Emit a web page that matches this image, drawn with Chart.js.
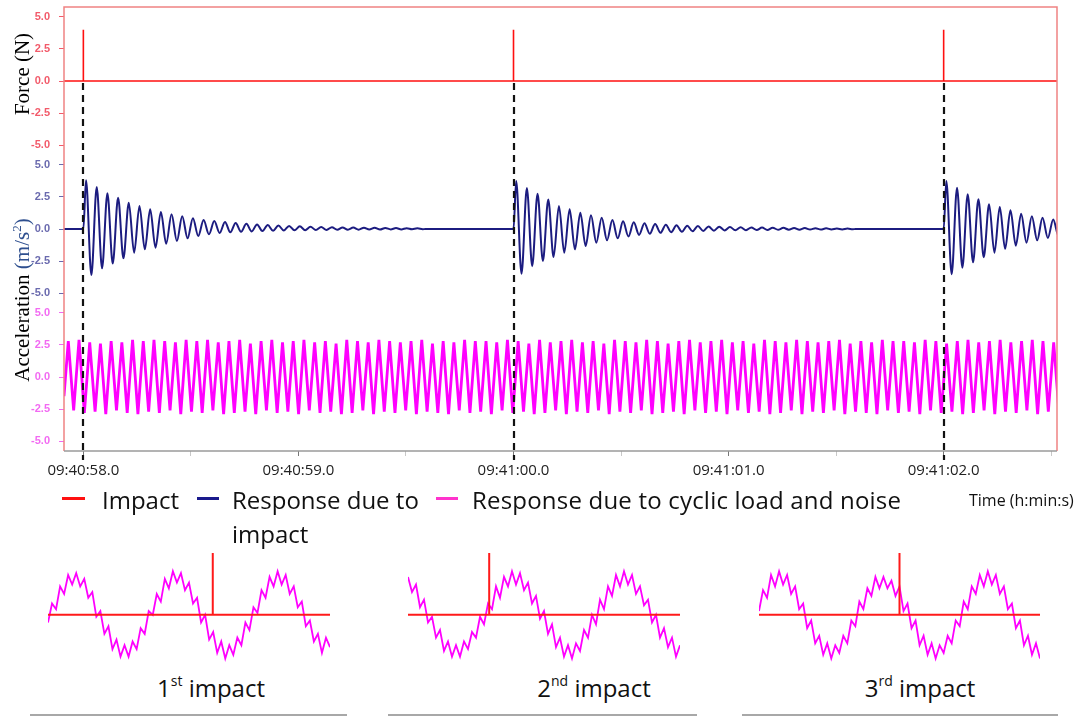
<!DOCTYPE html>
<html>
<head>
<meta charset="utf-8">
<script src="https://cdn.jsdelivr.net/npm/chart.js@4.4.0/dist/chart.umd.min.js"></script>
<style>
  html, body { margin:0; padding:0; background:#fff; }
  body { width:1082px; height:717px; overflow:hidden; position:relative; font-family:'Open Sans', sans-serif; }
  canvas { position:absolute; }
  .t { position:absolute; white-space:nowrap; color:#111; }
  .dash { position:absolute; height:3px; }
  .ul { position:absolute; height:2px; background:#a8a8a8; top:714px; }
  .ytitle { position:absolute; white-space:nowrap; font-family:'Liberation Serif', serif; font-size:21px; line-height:24px; color:#000; transform:translate(-50%,-50%) rotate(-90deg); }
  .cap { position:absolute; width:220px; text-align:center; font-size:24px; line-height:24px; color:#111; }
  .cap sup { font-size:14px; line-height:0; position:relative; top:-2px; vertical-align:super; }
</style>
</head>
<body>
<canvas id="main" width="1082" height="492" style="left:0;top:0;"></canvas>
<canvas id="in1" width="282" height="120" style="left:48px;top:545px;"></canvas>
<canvas id="in2" width="272" height="120" style="left:408px;top:545px;"></canvas>
<canvas id="in3" width="281" height="120" style="left:759px;top:545px;"></canvas>

<div class="ytitle" style="left:22px;top:74px;">Force (N)</div>
<div class="ytitle" style="left:22px;top:300px;">Acceleration <span style="color:#2e4f8f">(m/s<sup style="font-size:13px;line-height:0;">2</sup>)</span></div>

<div class="dash" style="left:62px;top:497px;width:23px;background:#ff1010;"></div>
<div class="t" style="left:102px;top:488px;font-size:24px;line-height:24px;">Impact</div>
<div class="dash" style="left:197px;top:497px;width:22px;background:#1a1a8c;"></div>
<div class="t" style="left:232px;top:488px;font-size:24px;line-height:24px;">Response due to</div>
<div class="t" style="left:232px;top:522px;font-size:24px;line-height:24px;">impact</div>
<div class="dash" style="left:436px;top:497px;width:22px;background:#ff33cc;"></div>
<div class="t" style="left:472px;top:488px;font-size:24px;line-height:24px;letter-spacing:0.2px;">Response due to cyclic load and noise</div>
<div class="t" style="left:969px;top:492px;font-size:16px;line-height:16px;">Time (h:min:s)</div>

<div class="cap" style="left:101px;top:676px;">1<sup>st</sup> impact</div>
<div class="cap" style="left:484px;top:676px;">2<sup>nd</sup> impact</div>
<div class="cap" style="left:810px;top:676px;">3<sup>rd</sup> impact</div>
<div class="ul" style="left:30px;width:317px;"></div>
<div class="ul" style="left:388px;width:309px;"></div>
<div class="ul" style="left:742px;width:316px;"></div>

<script>
// ---------- DATA (time in seconds after 09:40:00) ----------
const xTickValues = [58.0, 58.5, 59.0, 59.5, 60.0, 60.5, 61.0, 61.5, 62.0, 62.5];
const yTickValues = [-5.0, -2.5, 0.0, 2.5, 5.0];

const impactTimes = [58.0, 60.0, 62.0];
const impactForce = [4.0, 4.0, 4.0];

// successive maxima / minima of the impact response (m/s^2)
const respPeaks1   = [3.80,3.28,2.79,2.45,2.06,1.80,1.54,1.33,1.15,1.00,0.84,0.70,0.62,0.55,0.47,0.41,0.36,0.31,0.27,0.24,0.21,0.18,0.16,0.14,0.12,0.11,0.10,0.09,0.08,0.07,0.06,0.05];
const respTroughs1 = [-3.60,-3.07,-2.70,-2.29,-1.85,-1.59,-1.46,-1.15,-0.94,-0.73,-0.55,-0.41,-0.31,-0.26,-0.22,-0.19,-0.16,-0.14,-0.12,-0.10,-0.09,-0.08,-0.07,-0.06,-0.05,-0.05,-0.04,-0.04,-0.03,-0.03,-0.02,-0.02];
const respPeaks2   = [3.75,3.20,2.76,2.30,1.80,1.54,1.27,1.07,0.88,0.70,0.60,0.52,0.45,0.39,0.34,0.30,0.26,0.23,0.20,0.18,0.16,0.14,0.12,0.11,0.10,0.09,0.08,0.07,0.06,0.05,0.04,0.03];
const respTroughs2 = [-3.50,-2.90,-2.50,-2.19,-1.85,-1.59,-1.33,-1.07,-0.88,-0.73,-0.58,-0.46,-0.37,-0.30,-0.25,-0.21,-0.18,-0.15,-0.13,-0.11,-0.10,-0.09,-0.08,-0.07,-0.06,-0.05,-0.05,-0.04,-0.04,-0.03,-0.03,-0.02];
const respPeaks3   = [3.75,3.23,2.71,2.32,1.93,1.72,1.46,1.20,1.00,0.88,0.75];
const respTroughs3 = [-3.54,-3.02,-2.60,-2.20,-1.85,-1.55,-1.30,-1.07,-0.88,-0.70,-0.55];

// successive maxima / minima of the cyclic load + noise response (m/s^2)
const cyclicPeaks = [
  2.8,2.9,2.7,2.6,2.8,2.7,2.9,2.8,2.9,2.8,
  2.7,2.9,2.8,2.9,2.7,2.8,2.9,2.6,2.8,2.9,
  2.7,2.8,2.9,2.7,2.8,2.6,2.9,2.8,2.7,2.9,
  2.8,2.7,2.8,2.9,2.6,2.8,2.7,2.9,2.8,2.8,
  2.7,2.9,2.8,2.6,2.9,2.7,2.8,2.9,2.7,2.8,
  2.6,2.9,2.8,2.7,2.9,2.8,2.6,2.8,2.9,2.7,
  2.8,2.9,2.7,2.8,2.6,2.9,2.8,2.7,2.9,2.8,
  2.7,2.8,2.9,2.6,2.8,2.7,2.9,2.8,2.8,2.7,
  2.9,2.8,2.6,2.8,2.9,2.7,2.8,2.9,2.7,2.8,
  2.9,2.8,2.7];
const cyclicTroughs = [
  -2.6,-2.8,-2.7,-2.9,-2.6,-2.8,-2.9,-2.7,-2.8,-2.6,
  -2.9,-2.7,-2.8,-2.6,-2.9,-2.8,-2.7,-2.9,-2.6,-2.8,
  -2.7,-2.9,-2.6,-2.8,-2.7,-2.9,-2.8,-2.6,-2.9,-2.7,
  -2.8,-2.6,-2.9,-2.7,-2.8,-2.9,-2.6,-2.8,-2.7,-2.9,
  -2.6,-2.8,-2.7,-2.9,-2.8,-2.6,-2.9,-2.7,-2.8,-2.6,
  -2.9,-2.7,-2.8,-2.6,-2.9,-2.8,-2.7,-2.9,-2.6,-2.8,
  -2.7,-2.9,-2.6,-2.8,-2.7,-2.9,-2.8,-2.6,-2.9,-2.7,
  -2.8,-2.6,-2.9,-2.7,-2.8,-2.9,-2.6,-2.8,-2.7,-2.9,
  -2.6,-2.8,-2.7,-2.9,-2.8,-2.6,-2.9,-2.7,-2.8,-2.6,
  -2.9,-2.7,-2.8];
const cyclicStartValue = -1.5;

// zoomed windows around each impact (cyclic response, relative units)
const inset1Values = [-0.2,0.3,0.15,0.75,0.55,1.05,0.8,1.1,0.75,0.95,0.45,0.6,-0.05,0.1,-0.5,-0.3,-0.9,-0.65,-1.1,-0.8,-1.1,-0.7,-0.9,-0.35,-0.5,0.1,0.0,0.55,0.35,0.95,0.7,1.15,0.85,1.1,0.65,0.85,0.3,0.45,-0.2,0.0,-0.65,-0.45,-1.0,-0.7,-1.15,-0.8,-1.05,-0.6,-0.8,-0.2,-0.4,0.2,0.05,0.65,0.45,1.0,0.75,1.15,0.8,1.05,0.55,0.75,0.2,0.35,-0.3,-0.15,-0.7,-0.5,-1.0,-0.6,-0.85];
const inset2Values = [1.0,0.6,0.8,0.2,0.4,-0.2,-0.05,-0.6,-0.4,-0.95,-0.7,-1.1,-0.8,-1.1,-0.7,-0.9,-0.45,-0.6,-0.05,-0.25,0.3,0.15,0.75,0.45,1.0,0.75,1.15,0.8,1.1,0.65,0.85,0.3,0.5,-0.1,0.1,-0.5,-0.25,-0.85,-0.6,-1.1,-0.8,-1.15,-0.75,-0.95,-0.4,-0.6,0.0,-0.25,0.4,0.15,0.75,0.5,1.05,0.75,1.15,0.8,1.05,0.55,0.75,0.25,0.4,-0.2,0.0,-0.6,-0.35,-0.85,-0.6,-1.1,-0.8];
const inset3Values = [0.1,0.65,0.45,1.05,0.75,1.15,0.8,1.05,0.55,0.75,0.15,0.3,-0.35,-0.15,-0.75,-0.55,-1.05,-0.75,-1.15,-0.8,-1.0,-0.55,-0.75,-0.15,-0.3,0.35,0.15,0.7,0.5,1.0,0.7,1.0,0.7,0.9,0.5,0.75,0.1,0.3,-0.35,-0.15,-0.8,-0.55,-1.05,-0.75,-1.15,-0.8,-1.0,-0.55,-0.75,-0.15,-0.3,0.35,0.15,0.75,0.55,1.05,0.75,1.15,0.8,1.05,0.55,0.75,0.15,0.3,-0.35,-0.15,-0.8,-0.55,-1.05,-0.75,-1.15];
const insetImpactAt = [40.9, 20.3, 35.0];   // sample index of the impact in each window
const insetImpactHeight = [1.63, 1.63, 1.63];

// ---------- sampling constants ----------
const X_MIN = 57.91, X_MAX = 62.527;
const RESP_PERIOD = 0.0497, RESP_DELAY = 0.0124;
const CYC_START = 57.930, CYC_PERIOD = 0.0498;

// ---------- build point lists ----------
const forcePts = [{x:X_MIN, y:0}];
impactTimes.forEach((t,i) => { forcePts.push({x:t,y:0},{x:t,y:impactForce[i]},{x:t,y:0}); });
forcePts.push({x:X_MAX, y:0});

const respP = [respPeaks1, respPeaks2, respPeaks3];
const respT = [respTroughs1, respTroughs2, respTroughs3];
const respPts = [{x:X_MIN, y:0}];
impactTimes.forEach((t,i) => {
  respPts.push({x:t, y:0});
  let tt = t + RESP_DELAY;
  for (let k=0;k<respP[i].length;k++) {
    respPts.push({x:tt, y:respP[i][k]});
    respPts.push({x:tt + RESP_PERIOD/2, y:respT[i][k]});
    tt += RESP_PERIOD;
  }
  respPts.push({x:tt - RESP_PERIOD/4, y:0});
});

const cycPts = [{x:X_MIN, y:cyclicStartValue}];
for (let k=0;k<cyclicPeaks.length;k++) {
  cycPts.push({x:CYC_START + k*CYC_PERIOD, y:cyclicPeaks[k]});
  cycPts.push({x:CYC_START + (k+0.5)*CYC_PERIOD, y:cyclicTroughs[k]});
}

function fmtTime(v){
  const m = 40 + Math.floor(v/60);
  const s = v - Math.floor(v/60)*60;
  return '09:' + String(m).padStart(2,'0') + ':' + s.toFixed(1).padStart(4,'0');
}

function yAxis(color){
  return {
    type:'linear', position:'left', stack:'panels', stackWeight:1,
    min:-5.78, max:5.78,
    afterBuildTicks: s => { s.ticks = yTickValues.map(v => ({value:v})); },
    afterFit: s => { s.width = 64; s.paddingTop = 0; s.paddingBottom = 0; },
    grid:{ display:true, drawOnChartArea:false, drawTicks:true, tickLength:5, color:color, lineWidth:1 },
    border:{ display:false },
    ticks:{ color:color, padding:9, font:{family:'Liberation Sans', size:11, weight:'bold'},
            callback: v => Number(v).toFixed(1) }
  };
}

const framePlugin = {
  id:'frame',
  afterDatasetsDraw(chart){
    const {ctx, chartArea:a, scales} = chart;
    ctx.save();
    ctx.lineWidth = 1.5;
    ctx.strokeStyle = '#f08282';
    ctx.beginPath();
    ctx.moveTo(a.left, a.bottom); ctx.lineTo(a.left, a.top); ctx.lineTo(a.right, a.top); ctx.lineTo(a.right, a.bottom);
    ctx.stroke();
    ctx.strokeStyle = '#9a9a9a';
    ctx.beginPath(); ctx.moveTo(a.left, a.bottom); ctx.lineTo(a.right, a.bottom); ctx.stroke();
    // impact markers
    ctx.setLineDash([7,5]);
    ctx.lineWidth = 2.2;
    ctx.strokeStyle = '#111';
    const y0 = scales.yF.getPixelForValue(0);
    impactTimes.forEach(t => {
      const px = Math.round(scales.x.getPixelForValue(t));
      ctx.beginPath(); ctx.moveTo(px, y0 + 2); ctx.lineTo(px, a.bottom + 9); ctx.stroke();
    });
    ctx.restore();
  }
};

new Chart(document.getElementById('main'), {
  type:'line',
  data:{ datasets:[
    { label:'Impact', data:forcePts, yAxisID:'yF', borderColor:'#ff1010', borderWidth:1.6, pointRadius:0, tension:0 },
    { label:'Response due to impact', data:respPts, yAxisID:'yB', borderColor:'#1c1c80', borderWidth:2, pointRadius:0, cubicInterpolationMode:'monotone' },
    { label:'Response due to cyclic load and noise', data:cycPts, yAxisID:'yM', borderColor:'#ff00ff', borderWidth:2.8, pointRadius:0, tension:0 }
  ]},
  options:{
    responsive:false, animation:false, devicePixelRatio:1,
    layout:{ padding:{ left:0, right:25, top:7, bottom:0 } },
    plugins:{ legend:{display:false}, tooltip:{enabled:false} },
    scales:{
      x:{ type:'linear', min:X_MIN, max:X_MAX,
          afterBuildTicks: s => { s.ticks = xTickValues.map(v => ({value:v})); },
          afterFit: s => { s.height = 41; s.paddingLeft = 0; s.paddingRight = 0; },
          grid:{ display:true, drawOnChartArea:false, tickLength:5, color: c => (c.tick && Number.isInteger(c.tick.value)) ? '#777' : '#c8c8c8' },
          border:{ display:false },
          ticks:{ autoSkip:false, maxRotation:0, padding:6, color:'#222', font:{family:'Open Sans', size:15},
                  callback: v => Number.isInteger(v) ? fmtTime(v) : '' } },
      // stacked panels: the last one listed is drawn on top
      yM: yAxis('#f26af2'),
      yB: yAxis('#6a6aae'),
      yF: yAxis('#f25a6a')
    }
  },
  plugins:[framePlugin]
});

// ---------- insets ----------
function inset(id, values, impactAt, impactH){
  const n = values.length;
  const mag = values.map((v,i) => ({x:i, y:v}));
  const red = [{x:0,y:0},{x:impactAt,y:0},{x:impactAt,y:impactH},{x:impactAt,y:0},{x:n-1,y:0}];
  new Chart(document.getElementById(id), {
    type:'line',
    data:{ datasets:[
      { data:red, borderColor:'#ff1a1a', borderWidth:2, pointRadius:0, tension:0 },
      { data:mag, borderColor:'#ff00ff', borderWidth:1.8, pointRadius:0, tension:0 }
    ]},
    options:{
      responsive:false, animation:false, devicePixelRatio:1,
      layout:{ padding:0 },
      plugins:{ legend:{display:false}, tooltip:{enabled:false} },
      scales:{
        x:{ type:'linear', min:0, max:n-1, display:false },
        y:{ min:-1.32, max:1.84, display:false }
      }
    }
  });
}
inset('in1', inset1Values, insetImpactAt[0], insetImpactHeight[0]);
inset('in2', inset2Values, insetImpactAt[1], insetImpactHeight[1]);
inset('in3', inset3Values, insetImpactAt[2], insetImpactHeight[2]);
</script>
</body>
</html>
